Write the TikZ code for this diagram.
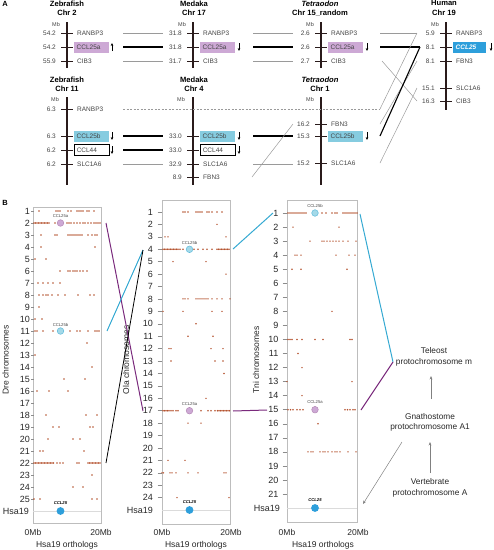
\documentclass[tikz,border=0pt]{standalone}
\usepackage{fontspec}
\setmainfont{Liberation Sans}
\usetikzlibrary{arrows.meta}
\definecolor{chrbar}{HTML}{2A1B1B}
\definecolor{lav}{HTML}{CDA9D5}
\definecolor{cyanbox}{HTML}{86CCE0}
\definecolor{hblue}{HTML}{2E9FDB}
\definecolor{dotc}{HTML}{B4522E}
\definecolor{plum}{HTML}{7A2A7C}
\definecolor{tealb}{HTML}{35A9D2}
\definecolor{txtg}{HTML}{444444}
\definecolor{linegray}{HTML}{9A9A9A}
\definecolor{boxgray}{HTML}{BDBDBD}
\newcommand{\myfs}[1]{\fontsize{#1}{#1}\selectfont}
\tikzset{
 ttl/.style={font=\bfseries\fontsize{7.6}{9.5}\selectfont, align=center, inner sep=0, anchor=north},
 mblab/.style={font=\myfs{5.5}, text=txtg, inner sep=0},
 val/.style={font=\myfs{6.5}, text=txtg, anchor=east, inner sep=0},
 gene/.style={font=\myfs{6.5}, text=txtg, anchor=west, inner sep=0},
 gbox/.style={anchor=west, font=\myfs{6.5}, text=txtg, inner xsep=2.5pt, inner ysep=0, minimum height=11pt, text width=30pt, align=left},
 cbar/.style={line width=2.6pt, draw=chrbar},
 tk/.style={draw=chrbar, line width=0.6pt},
 orient/.style={-{Stealth[length=3pt,width=2.6pt]}, line width=0.6pt, draw=black},
 thinl/.style={draw=linegray, line width=0.5pt},
 thickl/.style={draw=black, line width=1.1pt},
 dashl/.style={draw=linegray, line width=0.5pt, dash pattern=on 2pt off 1.5pt},
 rowlab/.style={font=\myfs{9}, anchor=east, inner sep=0, text=black!85},
 rtick/.style={draw=black!45, line width=0.5pt},
 axlab/.style={font=\myfs{8.5}, inner sep=0, text=black!85},
 pbox/.style={draw=boxgray, line width=0.7pt},
 clab/.style={font=\myfs{4.2}, text=txtg, inner sep=0},
 circA/.style={circle, fill=lav, draw=plum!55, line width=0.5pt, minimum size=6.6pt, inner sep=0},
 circB/.style={circle, fill=cyanbox!75, draw=tealb!80, line width=0.5pt, minimum size=6.6pt, inner sep=0},
 circH/.style={circle, fill=hblue, draw=none, minimum size=7.8pt, inner sep=0},
 hsaline/.style={draw=black!14, line width=0.8pt},
 proto/.style={font=\fontsize{8.3}{10.5}\selectfont, align=center, inner sep=0, text=black!85},
 garrow/.style={draw=black!50, line width=0.5pt, -{Stealth[length=3.5pt,width=2.8pt]}},
 plumL/.style={draw=plum, line width=1pt},
 tealL/.style={draw=tealb, line width=1pt},
 blackL/.style={draw=black, line width=0.8pt},
 panel/.style={font=\bfseries\myfs{7.5}, inner sep=0}
}
\newcommand{\grow}[4]{% bar x, y, value, gene
  \draw[tk] (#1-6,#2) -- (#1+6,#2);
  \node[val] at (#1-11,#2) {#3};
  \ifx\relax#4\relax\else\node[gene] at (#1+10,#2) {#4};\fi
}
\begin{document}
\begin{tikzpicture}[x=1pt,y=-1pt]
\useasboundingbox (0,0) rectangle (494,550);
% ================= Panel A =================
\node[panel] (pA) at (5,4) {A};
% titles
\node[ttl] (tz2) at (67,0.3) {Zebrafish\\Chr 2};
\node[ttl] (tm17) at (194,0.3) {Medaka\\Chr 17};
\node[ttl] (tt15) at (320,0.3) {\textit{Tetraodon}\\Chr 15\_random};
\node[ttl] (th19) at (444,0.3) {Human\\Chr 19};
\node[ttl] (tz11) at (67,76.5) {Zebrafish\\Chr 11};
\node[ttl] (tm4) at (194,76.5) {Medaka\\Chr 4};
\node[ttl] (tt1) at (320,76.5) {\textit{Tetraodon}\\Chr 1};
% Mb labels
\node[mblab] (mb1) at (56,24.5) {Mb};
\node[mblab] (mb2) at (182,24.5) {Mb};
\node[mblab] (mb3) at (310,24.5) {Mb};
\node[mblab] (mb4) at (435,24.5) {Mb};
\node[mblab] (mb5) at (55,100) {Mb};
\node[mblab] (mb6) at (181,100) {Mb};
\node[mblab] (mb7) at (310,100) {Mb};
% Zebrafish Chr 2
\grow{67}{33}{54.2}{RANBP3}
\grow{67}{47}{54.2}{}
\grow{67}{61}{55.9}{CIB3}
\node[gbox, fill=lav] (zA) at (74,47) {CCL25a};
\draw[orient] (112,51) -- (112,43);
\draw[cbar] (67,22) -- (67,68);
% Medaka Chr 17
\grow{193}{33}{31.8}{RANBP3}
\grow{193}{47}{31.8}{}
\grow{193}{61}{31.7}{CIB3}
\node[gbox, fill=lav] (mA) at (200,47) {CCL25a};
\draw[orient] (239,43) -- (239,51);
\draw[cbar] (193,22) -- (193,68);
% Tetraodon Chr 15
\grow{321}{33}{2.6}{RANBP3}
\grow{321}{47}{2.6}{}
\grow{321}{61}{2.7}{CIB3}
\node[gbox, fill=lav] (tA) at (328,47) {CCL25a};
\draw[orient] (367,43) -- (367,51);
\draw[cbar] (321,22) -- (321,68);
% Human Chr 19
\grow{446}{33}{5.9}{RANBP3}
\grow{446}{47}{8.1}{}
\grow{446}{61}{8.1}{FBN3}
\grow{446}{88}{15.1}{SLC1A6}
\grow{446}{101}{16.3}{CIB3}
\node[gbox, fill=hblue, text=white, text width=27.5pt, font=\bfseries\itshape\myfs{6.5}] (hC) at (453,47) {CCL25};
\draw[orient] (491,43) -- (491,51);
\draw[cbar] (446,22) -- (446,110);
% Zebrafish Chr 11
\grow{67}{109}{6.3}{RANBP3}
\grow{67}{136}{6.3}{}
\grow{67}{150}{6.2}{}
\grow{67}{164}{6.2}{SLC1A6}
\node[gbox, fill=cyanbox] (zB) at (74,136) {CCL25b};
\node[gbox, draw=black, line width=0.5pt, fill=white] (z44) at (74,150) {CCL44};
\draw[orient] (112,132) -- (112,140);
\draw[orient] (112,146) -- (112,154);
\draw[cbar] (67,97) -- (67,185);
% Medaka Chr 4
\grow{193}{136}{33.0}{}
\grow{193}{150}{33.0}{}
\grow{193}{164}{32.9}{SLC1A6}
\grow{193}{177}{8.9}{FBN3}
\node[gbox, fill=cyanbox] (mB) at (200,136) {CCL25b};
\node[gbox, draw=black, line width=0.5pt, fill=white] (m44) at (200,150) {CCL44};
\draw[orient] (239,132) -- (239,140);
\draw[orient] (239,146) -- (239,154);
\draw[cbar] (193,97) -- (193,185);
% Tetraodon Chr 1
\grow{321}{124}{16.2}{FBN3}
\grow{321}{136}{15.3}{}
\grow{321}{163}{15.2}{SLC1A6}
\node[gbox, fill=cyanbox] (tB) at (328,136) {CCL25b};
\draw[orient] (367,132) -- (367,140);
\draw[cbar] (321,97) -- (321,185);
% connectors panel A
\coordinate (a1) at (123,33); \coordinate (a2) at (163,33);
\coordinate (a3) at (123,47); \coordinate (a4) at (163,47);
\coordinate (a5) at (123,61); \coordinate (a6) at (163,61);
\coordinate (b1) at (253,33); \coordinate (b2) at (293,33);
\coordinate (b3) at (253,47); \coordinate (b4) at (293,47);
\coordinate (b5) at (253,61); \coordinate (b6) at (293,61);
\coordinate (c1) at (380,33); \coordinate (c2) at (417,33);
\coordinate (c3) at (380,47); \coordinate (hJ) at (420,47);
\coordinate (c5) at (382,61); \coordinate (c6) at (417,101);
\coordinate (d1) at (123,109); \coordinate (d2) at (380,109);
\coordinate (d3) at (123,136); \coordinate (d4) at (163,136);
\coordinate (d5) at (123,150); \coordinate (d6) at (163,150);
\coordinate (d7) at (123,164); \coordinate (d8) at (163,164);
\coordinate (e1) at (253,136); \coordinate (e2) at (293,136);
\coordinate (e3) at (253,164); \coordinate (e4) at (293,164);
\coordinate (e5) at (252,177); \coordinate (e6) at (293,124);
\coordinate (f1) at (380,136);
\coordinate (f2) at (380,124); \coordinate (hF) at (417,61);
\coordinate (f3) at (380,163); \coordinate (hS) at (417,88);
\draw[thinl] (a1) -- (a2); \draw[thickl] (a3) -- (a4); \draw[thinl] (a5) -- (a6);
\draw[thinl] (b1) -- (b2); \draw[thickl] (b3) -- (b4); \draw[thinl] (b5) -- (b6);
\draw[thinl] (c1) -- (c2); \draw[thickl] (c3) -- (hJ); \draw[thinl] (c5) -- (c6);
\draw[dashl] (d1) -- (d2);
\draw[thickl] (d3) -- (d4); \draw[thickl] (d5) -- (d6); \draw[thinl] (d7) -- (d8);
\draw[thickl] (e1) -- (e2); \draw[thinl] (e3) -- (e4); \draw[thinl] (e5) -- (e6);
\draw[thinl] (d2) -- (c2);
\draw[thinl] (f2) -- (hF);
\draw[thinl] (f3) -- (hS);
\draw[thickl, line join=round] (f1) -- (hJ);
% ================= Panel B =================
\node[panel] (pB) at (5,203) {B};
% boxes
\draw[pbox] (33,207) rectangle (101,523);
\draw[pbox] (162,200) rectangle (230,524);
\draw[pbox] (287,200) rectangle (357,522);
% Hsa19 lines
\draw[hsaline] (33,511) -- (101,511);
\draw[hsaline] (162,510) -- (230,510);
\draw[hsaline] (287,508) -- (357,508);
% row labels
\foreach \k in {1,...,25} {
  \pgfmathsetmacro\yy{211+12*(\k-1)}
  \node[rowlab] (dre\k) at (30,\yy) {\k};
  \draw[rtick] (31,\yy) -- (34,\yy);
}
\node[rowlab] (dreH) at (29,511) {Hsa19};
\foreach \k in {1,...,24} {
  \pgfmathsetmacro\yy{212+12.42*(\k-1)}
  \node[rowlab] (ola\k) at (153,\yy) {\k};
  \draw[rtick] (157.5,\yy) -- (161.5,\yy);
}
\node[rowlab] (olaH) at (153,510) {Hsa19};
\foreach \k in {1,...,21} {
  \pgfmathsetmacro\yy{213+14.05*(\k-1)}
  \node[rowlab] (tni\k) at (278.5,\yy) {\k};
  \draw[rtick] (282.5,\yy) -- (286.5,\yy);
}
\node[rowlab] (tniH) at (280,508) {Hsa19};
% dots Dre
\foreach \k/\xs in {1/{39,56,58,60,68,71,77,79,81,83,87,89,94},
 2/{34,35.5,37,38.5,40,41.5,43,44.5,46,47.5,49,55,67,69,71,74,77,80,83,85,88,91,94,96,98,100},
 3/{41,55,57,68,70,72,74,76,78,80,82,88,92,95,97},
 4/{41,95}, 5/{35,46}, 6/{60,68,70,73,75,77,80,83,87}, 7/{38,43,48,53,60},
 8/{39,43,46,48,52,58,65,78,90,94}, 9/{39}, 10/{35,42},
 11/{35,37,43,53,70,77,80,88,95,97,99}, 12/{87}, 13/{35}, 14/{92}, 15/{64,85},
 16/{37,49,68}, 18/{46,86,97}, 19/{53,59,90,93}, 20/{48,73,80}, 21/{40,43,84},
 22/{34,35.5,37,38.5,40,41.5,43,44.5,46,47.5,49,50.5,52,53.5,57,60,63,77,79,88,89.5,91,92.5,94,95.5,97,98.5,100},
 23/{92}, 24/{73,83}, 25/{34,40,92,97}} {
  \pgfmathsetmacro\yy{211+12*(\k-1)}
  \foreach \x in \xs { \fill[dotc] (\x,\yy) circle (0.8pt); }
}
% dots Ola
\foreach \k/\xs in {1/{183,185,188,196,198,200,202,207,209,212,217,222},
 2/{217}, 3/{165,168,226},
 4/{163,164.5,166,167.5,169,170.5,172,173.5,175,176.5,178,180,183,194,198,203,207,212,217,218.5,220,221.5,223,224.5,226,227.5,229},
 5/{173,206}, 6/{226},
 8/{183,185,188,196,198,200,202,204,206,208,212,217,222,230},
 9/{163,183,212,222}, 10/{196}, 11/{188,213}, 12/{169,171,211,223}, 13/{171,215,223},
 14/{224}, 16/{206},
 17/{163,164.5,166,167.5,169,171,173,176,178,201,208,211,215,217.5,219,220.5,222,223.5,225,226.5,228,229.5},
 18/{188,201}, 21/{168,185}, 22/{162,163.5,170,172,176,188,198,224,226}, 24/{177,229}} {
  \pgfmathsetmacro\yy{212+12.42*(\k-1)}
  \foreach \x in \xs { \fill[dotc] (\x,\yy) circle (0.8pt); }
}
% dots Tni
\foreach \k/\xs in {1/{288,290,292,294,296,298,300,302,304,306,322,326,332,335,337,343,345,347,349,351,353,355,357},
 2/{293,339}, 3/{310,322,324,327,330,333,336,339,343,348,356},
 4/{295,297,301,336,349,355}, 5/{292,301,347}, 8/{332},
 10/{288,290,292,297,302,315,323,350,352}, 11/{298}, 12/{302}, 13/{287,352}, 14/{302},
 15/{288,290.5,293,297,300,303,345,347.5,350,353,355}, 16/{318},
 18/{308,311,313,320,323,325,328,332,335,337,340,348,356}} {
  \pgfmathsetmacro\yy{213+14.05*(\k-1)}
  \foreach \x in \xs { \fill[dotc] (\x,\yy) circle (0.8pt); }
}
% highlighted genes
\node[circA] (dreA) at (60.5,223) {};
\node[clab] (dreAl) at (60.5,216.5) {CCL25a};
\node[circB] (dreB) at (60.5,331) {};
\node[clab] (dreBl) at (60.5,324.5) {CCL25b};
\node[circH] (dreC) at (60.5,511) {};
\node[clab, font=\bfseries\itshape\myfs{4.2}, text=black] (dreCl) at (60.5,503.5) {CCL25};
\node[circB] (olaB) at (189.5,249.3) {};
\node[clab] (olaBl) at (189.5,242.5) {CCL25b};
\node[circA] (olaA) at (189.5,410.7) {};
\node[clab] (olaAl) at (189.5,404) {CCL25a};
\node[circH] (olaC) at (189.5,510) {};
\node[clab, font=\bfseries\itshape\myfs{4.2}, text=black] (olaCl) at (189.5,502.5) {CCL25};
\node[circB] (tniB) at (315,213) {};
\node[clab] (tniBl) at (315,205.5) {CCL25b};
\node[circA] (tniA) at (315,409.7) {};
\node[clab] (tniAl) at (315,402.5) {CCL25a};
\node[circH] (tniC) at (315,508) {};
\node[clab, font=\bfseries\itshape\myfs{4.2}, text=black] (tniCl) at (315,500.5) {CCL25};
% axis labels
\node[axlab] (x0a) at (33,532) {0Mb};
\node[axlab] (x2a) at (101,532) {20Mb};
\node[axlab] (x0b) at (162,532) {0Mb};
\node[axlab] (x2b) at (231,532) {20Mb};
\node[axlab] (x0c) at (287,532) {0Mb};
\node[axlab] (x2c) at (358,532) {20Mb};
\node[axlab] (oa) at (67,545) {Hsa19 orthologs};
\node[axlab] (ob) at (196,545) {Hsa19 orthologs};
\node[axlab] (oc) at (323,545) {Hsa19 orthologs};
\node[axlab, rotate=90] (ya) at (5.5,360) {Dre chromosomes};
\node[axlab, rotate=90] (yb) at (126,360) {Ola chromosomes};
\node[axlab, rotate=90] (yc) at (256,360) {Tni chromosomes};
% protochromosome labels
\node[proto] (tel) at (434,357) {Teleost\\protochromosome m};
\node[proto] (gna) at (430,422.5) {Gnathostome\\protochromosome A1};
\node[proto] (ver) at (430,488) {Vertebrate\\protochromosome A};
% connectors panel B
\coordinate (p1) at (106,223); \coordinate (p2) at (143,411);
\coordinate (q1) at (107,331); \coordinate (q2) at (143,250);
\coordinate (r1) at (106,463);
\coordinate (s1) at (233,249); \coordinate (s2) at (273,213);
\coordinate (u1) at (233,411); \coordinate (u2) at (267,410);
\coordinate (v1) at (360,214); \coordinate (telin) at (393,362);
\coordinate (w1) at (361,410);
\coordinate (g1) at (402,442); \coordinate (g2) at (363,504);
\coordinate (k1) at (431,399); \coordinate (k2) at (431,376);
\coordinate (m1) at (430,473); \coordinate (m2) at (430,442);
\draw[plumL] (p1) -- (p2);
\draw[tealL] (q1) -- (q2);
\draw[blackL] (r1) -- (q2);
\draw[tealL] (s1) -- (s2);
\draw[plumL] (u1) -- (u2);
\draw[tealL] (v1) -- (telin);
\draw[plumL] (w1) -- (telin);
\draw[garrow] (g1) -- (g2);
\draw[garrow] (k1) -- (k2);
\draw[garrow] (m1) -- (m2);
\end{tikzpicture}
\end{document}
